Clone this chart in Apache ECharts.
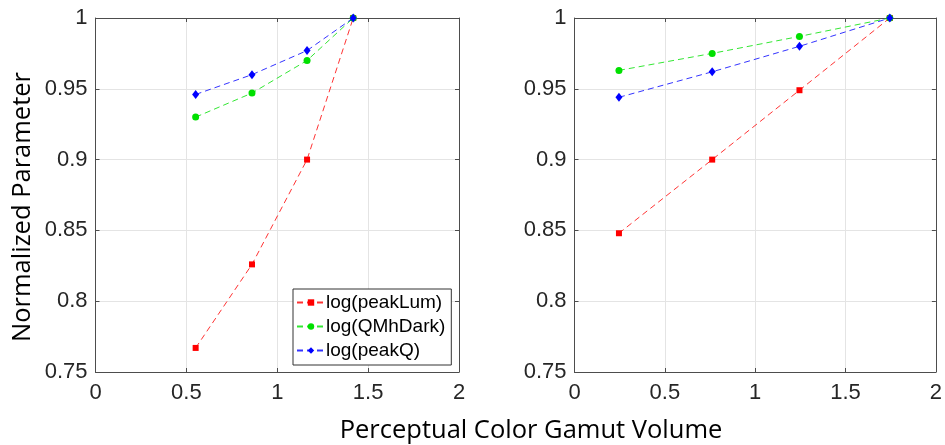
<!DOCTYPE html>
<html>
<head>
<meta charset="utf-8">
<script src="https://cdn.jsdelivr.net/npm/echarts@6/dist/echarts.min.js"></script>
<style>
html, body { margin: 0; padding: 0; background: #fff; }
#container { width: 945px; height: 445px; }
</style>
</head>
<body>
<div id="container"></div>
<script>
// values
var seriesNames = ['log(peakLum)', 'log(QMhDark)', 'log(peakQ)'];

// left panel
var leftX = [0.551, 0.861, 1.164, 1.418];
var leftPeakLum = [0.767, 0.826, 0.900, 1.0];
var leftQMhDark = [0.930, 0.947, 0.970, 1.0];
var leftPeakQ = [0.946, 0.960, 0.977, 1.0];

// right panel
var rightX = [0.246, 0.762, 1.245, 1.745];
var rightPeakLum = [0.848, 0.900, 0.949, 1.0];
var rightQMhDark = [0.963, 0.975, 0.987, 1.0];
var rightPeakQ = [0.944, 0.962, 0.980, 1.0];

var xTicks = [0, 0.5, 1, 1.5, 2];
var yTicks = [0.75, 0.8, 0.85, 0.9, 0.95, 1];

var colors = ['#ff0000', '#00e000', '#0000ff'];
var symbols = ['rect', 'circle', 'diamond'];
var symbolSizes = [6, 7, [7, 9]];

var frameColor = '#4d4d4d';
var gridColor = '#e4e4e4';
var tickFont = 'Liberation Sans, Arial, sans-serif';

function pairs(xs, ys) {
  var out = [];
  for (var i = 0; i < xs.length; i++) {
    out.push([xs[i], ys[i]]);
  }
  return out;
}

// one pair of bottom/left axes with labels, and a top/right pair with only inner ticks
function makeX(gridIndex, position, labels) {
  return {
    type: 'value',
    gridIndex: gridIndex,
    position: position,
    min: xTicks[0],
    max: xTicks[xTicks.length - 1],
    interval: 0.5,
    axisLine: { show: true, onZero: false, lineStyle: { color: frameColor, width: 1 } },
    axisTick: { show: true, inside: true, length: 4, lineStyle: { color: frameColor } },
    axisLabel: {
      show: labels, margin: 10, color: '#262626', fontSize: 22, fontFamily: tickFont,
      formatter: function (v) { return +v.toFixed(2); }
    },
    splitLine: { show: labels, lineStyle: { color: gridColor, width: 1 } }
  };
}
function makeY(gridIndex, position, labels) {
  return {
    type: 'value',
    gridIndex: gridIndex,
    position: position,
    min: yTicks[0],
    max: yTicks[yTicks.length - 1],
    interval: 0.05,
    axisLine: { show: true, onZero: false, lineStyle: { color: frameColor, width: 1 } },
    axisTick: { show: true, inside: true, length: 4, lineStyle: { color: frameColor } },
    axisLabel: {
      show: labels, margin: 8, color: '#262626', fontSize: 22, fontFamily: tickFont,
      formatter: function (v) { return +v.toFixed(2); }
    },
    splitLine: { show: labels, lineStyle: { color: gridColor, width: 1 } }
  };
}

function makeSeries(i, data, xIndex, yIndex) {
  return {
    name: seriesNames[i],
    type: 'line',
    xAxisIndex: xIndex,
    yAxisIndex: yIndex,
    data: data,
    symbol: symbols[i],
    symbolSize: symbolSizes[i],
    showAllSymbol: true,
    color: colors[i],
    itemStyle: { color: colors[i] },
    lineStyle: { color: colors[i], width: 1, type: [6, 4], opacity: 0.8 },
    animation: false,
    z: 3 + i
  };
}

var option = {
  backgroundColor: '#ffffff',
  animation: false,
  grid: [
    { left: 95.5, top: 18, width: 363.5, height: 354 },
    { left: 574.5, top: 18, width: 363, height: 354 }
  ],
  xAxis: [
    makeX(0, 'bottom', true),
    makeX(0, 'top', false),
    makeX(1, 'bottom', true),
    makeX(1, 'top', false)
  ],
  yAxis: [
    makeY(0, 'left', true),
    makeY(0, 'right', false),
    makeY(1, 'left', true),
    makeY(1, 'right', false)
  ],
  legend: {
    orient: 'vertical',
    left: 293,
    top: 289,
    data: seriesNames,
    backgroundColor: '#ffffff',
    borderColor: '#333333',
    borderWidth: 1,
    padding: [4, 6, 5, 3],
    itemGap: 5,
    itemWidth: 28,
    itemHeight: 8,
    textStyle: { fontSize: 19, fontFamily: tickFont, color: '#000000', padding: [0, 0, 0, -4] }
  },
  graphic: [
    {
      type: 'text',
      x: 531, y: 431,
      style: {
        text: 'Perceptual Color Gamut Volume',
        font: '25.5px "Open Sans", sans-serif',
        fill: '#000000',
        align: 'center',
        verticalAlign: 'middle'
      }
    },
    {
      type: 'text',
      x: 23, y: 207,
      rotation: Math.PI / 2,
      style: {
        text: 'Normalized Parameter',
        font: '25.5px "Open Sans", sans-serif',
        fill: '#000000',
        align: 'center',
        verticalAlign: 'middle'
      }
    }
  ],
  series: [
    makeSeries(0, pairs(leftX, leftPeakLum), 0, 0),
    makeSeries(1, pairs(leftX, leftQMhDark), 0, 0),
    makeSeries(2, pairs(leftX, leftPeakQ), 0, 0),
    makeSeries(0, pairs(rightX, rightPeakLum), 2, 2),
    makeSeries(1, pairs(rightX, rightQMhDark), 2, 2),
    makeSeries(2, pairs(rightX, rightPeakQ), 2, 2)
  ]
};

var myEcharts = echarts.init(document.getElementById('container'));
myEcharts.setOption(option);
</script>
</body>
</html>
